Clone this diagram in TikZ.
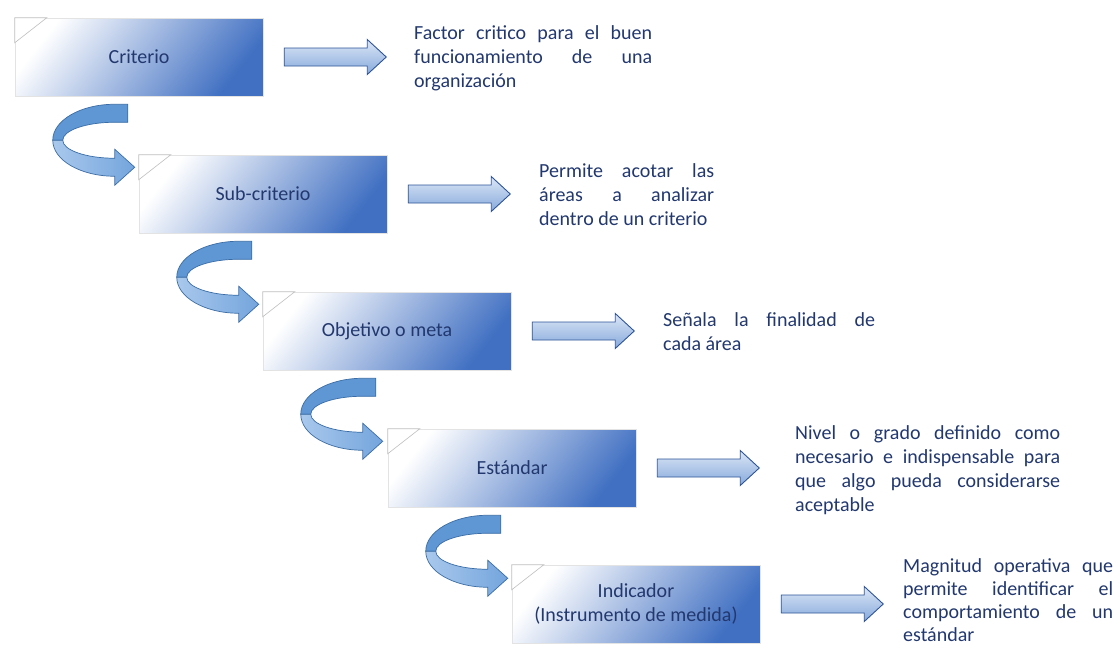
\documentclass[tikz,border=0pt]{standalone}
\usepackage{fontspec}
\setmainfont{Carlito}
\usetikzlibrary{calc}
\hyphenpenalty=10000
\exhyphenpenalty=10000
\definecolor{boxblue}{HTML}{4170C2}
\definecolor{navy}{HTML}{22386E}
\definecolor{arrline}{HTML}{2F5597}
\definecolor{arrtop}{HTML}{DCE7F6}
\definecolor{arrbot}{HTML}{86A9DC}
\definecolor{curveback}{HTML}{5F96D4}
\definecolor{curvefront}{HTML}{A9C8EC}
\definecolor{curvefront2}{HTML}{74A5DD}
\definecolor{curveline}{HTML}{3A6DA5}
\tikzset{
  stagebox/.style={minimum width=248pt, minimum height=78pt, inner sep=0pt,
    top color=white, bottom color=boxblue, middle color=boxblue!50, shading angle=52,
    draw=gray!22, line width=0.5pt,
    text=navy, align=center, font=\fontsize{20}{23.5}\selectfont},
  desc/.style={anchor=base west, inner sep=0pt, text=navy, align=justify,
    font=\fontsize{20}{24.2}\selectfont},
  blockarrow/.style={draw=arrline, line width=0.9pt, top color=arrtop, bottom color=arrbot, line join=miter},
  fold/.style={draw=gray!50, line width=0.6pt, fill=white},
  curveb/.style={draw=curveline, line width=0.7pt, fill=curveback},
  curvef/.style={draw=curveline, line width=0.7pt, left color=curvefront, right color=curvefront2}
}
\newcommand{\foldcorner}[1]{\draw[fold] (#1.north west) -- ++(32,0) -- ($(#1.north west)+(0,25)$) -- cycle;}
\newcommand{\rblockarrow}[2]{%
  \coordinate (#2s) at ($(#1.east)+(21,0)$);
  \draw[blockarrow] ($(#2s)+(0,-9)$) -- ++(83,0) -- ++(0,-8.5) -- ++(19,17.5) -- ++(-19,17.5) -- ++(0,-8.5) -- ++(-83,0) -- cycle;}
\newcommand{\uturn}[1]{%
  \begin{scope}[shift={(#1.south west)}]
    \draw[curveb] (113,8) -- (100,8) .. controls (65.8,8) and (38,24.1) .. (38,44) -- (48,44) .. controls (48,34.1) and (71.3,26) .. (100,26) -- (113,26) -- cycle;
    \draw[curvef] (38,44) .. controls (38,63.9) and (65.8,80) .. (100,80) -- (100,89) -- (120,71) -- (100,53) -- (100,62) .. controls (71.3,62) and (48,53.9) .. (48,44) -- cycle;
  \end{scope}}
\begin{document}
\begin{tikzpicture}[x=1pt, y=-1pt]
\useasboundingbox (0,0) rectangle (1120,648);
\fill[white] (0,0) rectangle (1120,648);
% stage boxes
\node[stagebox] (b1) at (139,57) {Criterio};
\node[stagebox] (b2) at (263,194) {Sub-criterio};
\node[stagebox] (b3) at (387,331) {Objetivo o meta};
\node[stagebox] (b4) at (512,468) {Estándar};
\node[stagebox] (b5) at (636,604) {Indicador\\(Instrumento de medida)};
\foldcorner{b1}\foldcorner{b2}\foldcorner{b3}\foldcorner{b4}\foldcorner{b5}
% curved arrows between stages
\uturn{b1}\uturn{b2}\uturn{b3}\uturn{b4}
% block arrows
\rblockarrow{b1}{a1}\rblockarrow{b2}{a2}\rblockarrow{b3}{a3}\rblockarrow{b4}{a4}\rblockarrow{b5}{a5}
% descriptions
\node[desc, text width=238pt] (t1) at (414,39) {Factor critico para el buen\linebreak funcionamiento de una\linebreak organización};
\node[desc, text width=175pt] (t2) at (539,177) {Permite acotar las\linebreak áreas a analizar\linebreak dentro de un criterio};
\node[desc, text width=212pt] (t3) at (663,326) {Señala la finalidad de\linebreak cada área};
\node[desc, text width=265pt] (t4) at (795,439) {Nivel o grado definido como\linebreak necesario e indispensable para\linebreak que algo pueda considerarse\linebreak aceptable};
\node[desc, text width=210pt, font=\fontsize{20}{23.2}\selectfont] (t5) at (903,572) {Magnitud operativa que\linebreak permite identificar el\linebreak comportamiento de un\linebreak estándar};
\end{tikzpicture}
\end{document}
